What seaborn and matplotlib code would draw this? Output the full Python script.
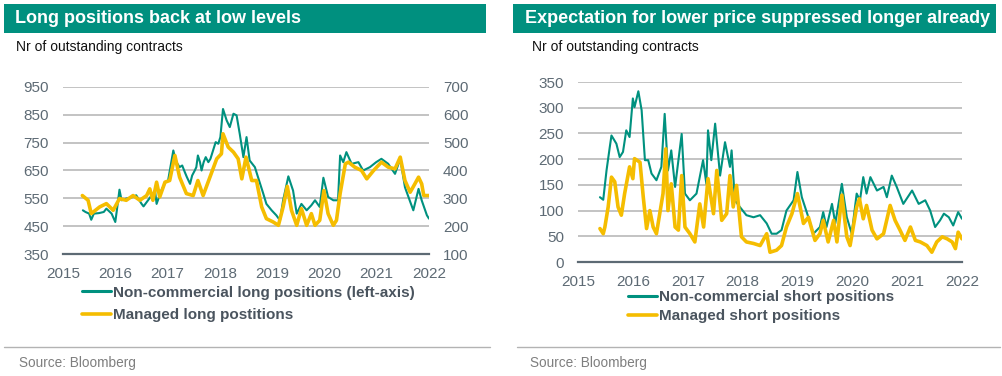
import matplotlib
matplotlib.use('Agg')
import matplotlib.pyplot as plt
from matplotlib.patches import Rectangle
from matplotlib.lines import Line2D
import seaborn as sns
import pandas as pd

# ---- data (decimal years) ----
nc_long_t = [2015.38, 2015.43, 2015.50, 2015.54, 2015.59, 2015.69, 2015.78, 2015.83, 2015.93, 2016.00,
             2016.03, 2016.08, 2016.12, 2016.21, 2016.34, 2016.40, 2016.50, 2016.54, 2016.65, 2016.74,
             2016.76, 2016.79, 2016.88, 2016.96, 2017.01, 2017.11, 2017.14, 2017.17, 2017.23, 2017.28,
             2017.33, 2017.37, 2017.43, 2017.47, 2017.52, 2017.55, 2017.58, 2017.62, 2017.65, 2017.69,
             2017.73, 2017.78, 2017.82, 2017.87, 2017.92, 2017.97, 2018.01, 2018.06,
             2018.13, 2018.19, 2018.26, 2018.32, 2018.38, 2018.45, 2018.51, 2018.57, 2018.67, 2018.73,
             2018.83, 2018.89, 2018.99, 2019.08, 2019.15, 2019.21, 2019.31, 2019.40, 2019.47, 2019.56,
             2019.66, 2019.75, 2019.82, 2019.91, 2019.98, 2020.07, 2020.17, 2020.26, 2020.30, 2020.36,
             2020.42, 2020.52, 2020.65, 2020.74, 2020.87, 2020.99, 2021.09, 2021.22, 2021.35, 2021.45,
             2021.54, 2021.63, 2021.70, 2021.80, 2021.86, 2021.96, 2022.00]
nc_long_v = [507, 501, 495, 473, 495, 497, 501, 513, 495, 465,
             507, 581, 543, 549, 555, 561, 531, 521, 549, 572,
             578, 530, 578, 608, 614, 722, 698, 680, 662, 668,
             644, 626, 602, 632, 650, 662, 704, 680, 650, 680,
             698, 680, 692, 722, 752, 746, 770, 871,
             830, 806, 854, 848, 782, 698, 770, 686, 662, 626,
             567, 530, 507, 489, 471, 543, 629, 578, 495, 530,
             507, 525, 543, 519, 624, 555, 543, 543, 704, 680,
             716, 674, 680, 650, 662, 680, 692, 674, 638, 692,
             590, 543, 507, 584, 543, 489, 477]

mg_long_t = [2015.37, 2015.48, 2015.54, 2015.70, 2015.83, 2015.96, 2016.08, 2016.21, 2016.34, 2016.47,
             2016.60, 2016.66, 2016.72, 2016.79, 2016.85, 2016.95, 2017.04, 2017.14, 2017.23, 2017.36,
             2017.49, 2017.58, 2017.68, 2017.81, 2017.94, 2018.03, 2018.06, 2018.16, 2018.26, 2018.35,
             2018.42, 2018.50, 2018.61, 2018.70, 2018.80, 2018.89, 2019.02, 2019.12, 2019.21, 2019.29,
             2019.37, 2019.47, 2019.56, 2019.66, 2019.75, 2019.82, 2019.91, 2019.99, 2020.07, 2020.17,
             2020.23, 2020.30, 2020.40, 2020.46, 2020.58, 2020.71, 2020.81, 2020.94, 2021.09, 2021.22,
             2021.35, 2021.45, 2021.54, 2021.64, 2021.73, 2021.80, 2021.86, 2021.90, 2022.00]
mg_long_v = [310, 293, 245, 269, 281, 257, 299, 293, 310, 293,
             310, 334, 293, 358, 305, 358, 364, 454, 376, 317,
             310, 364, 310, 376, 442, 460, 532, 484, 466, 442,
             370, 448, 364, 364, 269, 227, 215, 203, 269, 343,
             257, 203, 263, 203, 245, 203, 221, 328, 245, 203,
             221, 317, 424, 430, 412, 400, 370, 400, 430, 412,
             406, 448, 364, 322, 352, 376, 352, 310, 310]

nc_short_t = [2015.40, 2015.46, 2015.52, 2015.58, 2015.61, 2015.70, 2015.76, 2015.82, 2015.88, 2015.94,
              2016.00, 2016.03, 2016.10, 2016.16, 2016.22, 2016.28, 2016.34, 2016.43, 2016.52, 2016.58,
              2016.64, 2016.70, 2016.77, 2016.89, 2016.95, 2017.04, 2017.16, 2017.28, 2017.34, 2017.37,
              2017.43, 2017.50, 2017.59, 2017.68, 2017.77, 2017.80, 2017.86, 2017.95, 2018.07, 2018.20,
              2018.32, 2018.44, 2018.53, 2018.62, 2018.71, 2018.80, 2018.93, 2019.00, 2019.08, 2019.20,
              2019.29, 2019.41, 2019.47, 2019.53, 2019.63, 2019.69, 2019.81, 2019.90, 2019.99, 2020.08,
              2020.14, 2020.20, 2020.26, 2020.33, 2020.45, 2020.57, 2020.63, 2020.72, 2020.81, 2020.93,
              2021.09, 2021.21, 2021.33, 2021.42, 2021.51, 2021.60, 2021.67, 2021.76, 2021.84, 2021.93,
              2022.00]
nc_short_v = [126, 121, 178, 224, 246, 230, 204, 214, 256, 243,
              318, 301, 332, 295, 198, 198, 172, 159, 185, 288,
              178, 217, 146, 249, 133, 120, 133, 198, 152, 256,
              198, 269, 168, 233, 185, 217, 120, 107, 91, 87,
              91, 75, 55, 55, 62, 100, 120, 175, 126, 87,
              55, 68, 97, 68, 113, 75, 152, 87, 55, 133,
              120, 165, 133, 165, 139, 146, 126, 168, 146, 113,
              139, 113, 120, 100, 68, 81, 94, 87, 71, 97,
              84]

mg_short_t = [2015.40, 2015.46, 2015.49, 2015.55, 2015.61, 2015.67, 2015.73, 2015.79, 2015.85, 2015.94,
              2016.00, 2016.03, 2016.13, 2016.19, 2016.25, 2016.31, 2016.37, 2016.43, 2016.49, 2016.55,
              2016.60, 2016.64, 2016.70, 2016.77, 2016.83, 2016.89, 2016.95, 2017.04, 2017.13, 2017.22,
              2017.29, 2017.37, 2017.47, 2017.53, 2017.62, 2017.71, 2017.77, 2017.83, 2017.89, 2017.98,
              2018.07, 2018.20, 2018.32, 2018.44, 2018.50, 2018.62, 2018.71, 2018.80, 2018.90, 2019.00,
              2019.11, 2019.20, 2019.32, 2019.41, 2019.47, 2019.56, 2019.66, 2019.72, 2019.81, 2019.90,
              2019.96, 2020.08, 2020.13, 2020.20, 2020.26, 2020.36, 2020.45, 2020.57, 2020.69, 2020.78,
              2020.87, 2020.96, 2021.06, 2021.15, 2021.24, 2021.36, 2021.45, 2021.54, 2021.64, 2021.73,
              2021.82, 2021.88, 2021.93, 2022.00]
mg_short_v = [65, 55, 68, 107, 165, 156, 107, 91, 133, 185,
              162, 201, 194, 126, 65, 100, 68, 55, 94, 133,
              220, 100, 152, 68, 62, 168, 68, 55, 39, 113,
              68, 162, 94, 178, 81, 94, 168, 107, 149, 49,
              39, 36, 32, 55, 19, 23, 32, 68, 94, 133,
              75, 87, 42, 55, 81, 39, 81, 39, 130, 49,
              32, 107, 123, 84, 110, 62, 45, 55, 110, 81,
              62, 42, 68, 42, 39, 32, 19, 39, 49, 45,
              39, 26, 58, 45]

years = [2015, 2016, 2017, 2018, 2019, 2020, 2021, 2022]
left_ticks = [350, 450, 550, 650, 750, 850, 950]
right_ticks = [100, 200, 300, 400, 500, 600, 700]
short_ticks = [0, 50, 100, 150, 200, 250, 300, 350]

long_nc = pd.DataFrame({'date': nc_long_t, 'value': nc_long_v})
long_mg = pd.DataFrame({'date': mg_long_t, 'value': mg_long_v})
short_nc = pd.DataFrame({'date': nc_short_t, 'value': nc_short_v})
short_mg = pd.DataFrame({'date': mg_short_t, 'value': mg_short_v})

GREEN = '#00917f'
YELLOW = '#f5bd00'
TICKC = '#5d6a74'
GRID = '#b3b3b3'

sns.set_style('white')
plt.rcParams['font.family'] = ['Liberation Sans', 'DejaVu Sans']

W, H = 1002, 376
fig = plt.figure(figsize=(W / 100, H / 100), dpi=100)


def fx(px):
    return px / W


def fy(py):
    return 1 - py / H


def style_axis(ax, ticks, lim):
    ax.set_ylim(lim)
    ax.set_yticks(ticks)
    ax.set_xlim(2015, 2022)
    ax.set_xticks(years)
    ax.set_xticklabels([str(y) for y in years])
    for s in ['top', 'right', 'left']:
        ax.spines[s].set_visible(False)
    ax.spines['bottom'].set_color(TICKC)
    ax.spines['bottom'].set_linewidth(1.6)
    ax.tick_params(axis='x', colors=TICKC, labelsize=11, length=5, width=1.4, pad=4, direction='out')
    ax.tick_params(axis='y', colors=TICKC, labelsize=11, length=0, pad=10)
    ax.set_xlabel('')
    ax.set_ylabel('')


legend_kw = dict(loc='upper left', bbox_transform=fig.transFigure, frameon=False, borderpad=0,
                 borderaxespad=0, handlelength=1.9, handletextpad=0.1,
                 prop={'weight': 'bold', 'size': 11}, labelcolor='#4a545e')

# ---- left panel ----
axL = fig.add_axes([fx(63), fy(254), fx(366), 167 / H])
axL.grid(axis='y', color=GRID, lw=1.1)
axL.set_axisbelow(True)
sns.lineplot(data=long_nc, x='date', y='value', ax=axL, color=GREEN, lw=1.5)
style_axis(axL, left_ticks, (350, 950))
axR = axL.twinx()
sns.lineplot(data=long_mg, x='date', y='value', ax=axR, color=YELLOW, lw=2.6)
style_axis(axR, right_ticks, (100, 700))
axR.spines['bottom'].set_visible(False)
axR.tick_params(axis='x', length=0, labelbottom=False)
axR.tick_params(axis='y', right=True, left=False, labelright=True, labelleft=False)

hL = [Line2D([0], [0], color=GREEN, lw=2.2), Line2D([0], [0], color=YELLOW, lw=2.6)]
axL.legend(hL, ['Non-commercial long positions (left-axis)', 'Managed long postitions'],
           bbox_to_anchor=(fx(82), fy(285.5)), labelspacing=0.57, **legend_kw)

# ---- right panel ----
ax2 = fig.add_axes([fx(578), fy(262), fx(384), 180 / H])
ax2.grid(axis='y', color=GRID, lw=1.1)
ax2.set_axisbelow(True)
sns.lineplot(data=short_nc, x='date', y='value', ax=ax2, color=GREEN, lw=1.5)
sns.lineplot(data=short_mg, x='date', y='value', ax=ax2, color=YELLOW, lw=2.6)
style_axis(ax2, short_ticks, (0, 350))
hS = [Line2D([0], [0], color=GREEN, lw=2.2), Line2D([0], [0], color=YELLOW, lw=2.6)]
ax2.legend(hS, ['Non-commercial short positions', 'Managed short positions'],
           bbox_to_anchor=(fx(628), fy(290.5)), labelspacing=0.3, **legend_kw)

# ---- header bars, subtitles, sources ----
titles = ['Long positions back at low levels', 'Expectation for lower price suppressed longer already']
panels = [(4, 486, 15, 16, 4, 490, 19, titles[0]),
          (513, 996, 525, 532, 517, 1000, 530, titles[1])]
for x0, x1, tx, sx, l0, l1, srcx, title in panels:
    fig.patches.append(Rectangle((fx(x0), fy(33)), fx(x1 - x0), 29 / H, transform=fig.transFigure,
                                 facecolor='#00907f', edgecolor='none'))
    fig.text(fx(tx), fy(18.5), title, color='white', fontsize=13, fontweight='bold', va='center')
    fig.text(fx(sx), fy(47), 'Nr of outstanding contracts', color='#111111', fontsize=10, va='center')
    fig.add_artist(Line2D([fx(l0), fx(l1)], [fy(346.5), fy(346.5)], color='#b3b3b3', lw=1,
                          transform=fig.transFigure))
    fig.text(fx(srcx), fy(363), 'Source: Bloomberg', color='#7f7f7f', fontsize=9.8, va='center')

fig.savefig('out.png', dpi=100)
